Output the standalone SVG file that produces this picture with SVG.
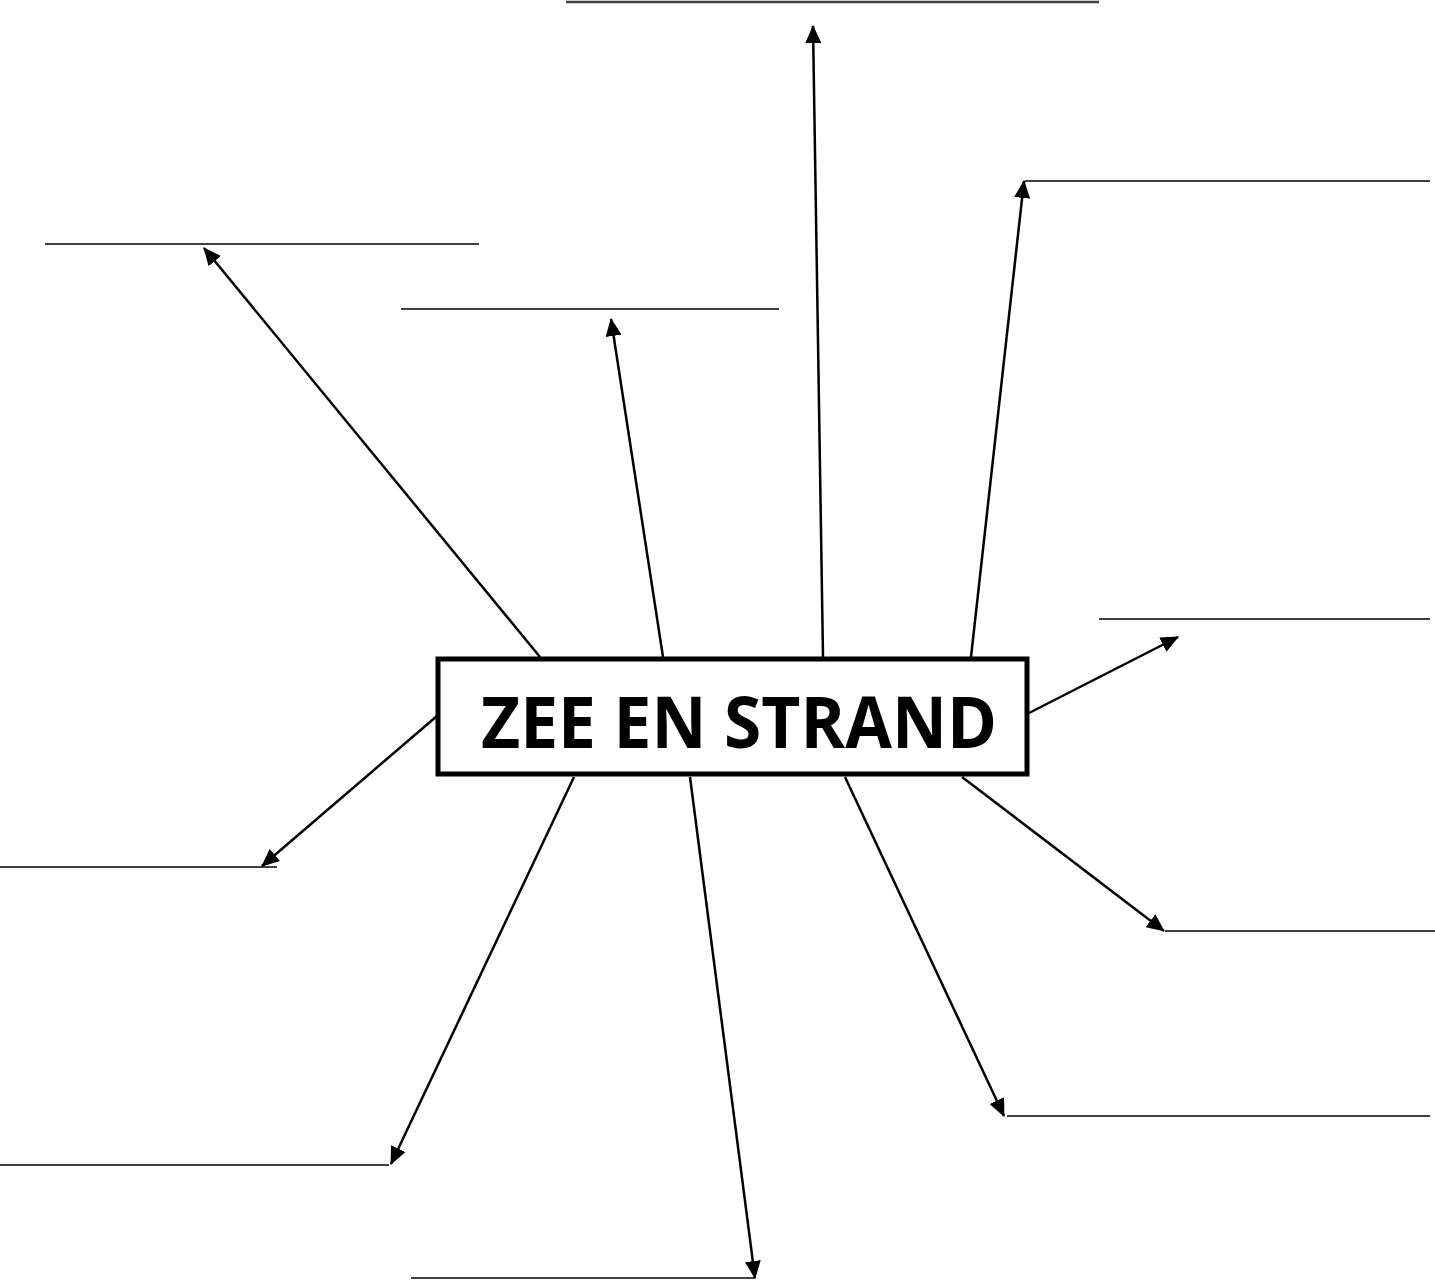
<svg xmlns="http://www.w3.org/2000/svg" width="1435" height="1281" viewBox="0 0 1435 1281">
<style>
.ul{stroke:#000;stroke-width:1.6;fill:none}
.ar{stroke:#000;stroke-width:2.5;fill:none;marker-end:url(#ah)}
.box{fill:#fff;stroke:#000;stroke-width:5}
.t{font-family:"Open Sans","Liberation Sans",sans-serif;font-weight:bold;font-size:72px;fill:#000}
</style>
<defs>
<marker id="ah" markerUnits="userSpaceOnUse" markerWidth="18" markerHeight="16" refX="17" refY="8" orient="auto">
<path d="M0,0 L18,8 L0,16 Z" fill="#000"/>
</marker>
</defs>
<rect width="1435" height="1281" fill="#fff"/>
<g id="underlines">
<line class="ul" x1="566" y1="2" x2="1099" y2="2" style="stroke:#444;stroke-width:2.5"/>
<line class="ul" x1="1025" y1="181" x2="1430" y2="181"/>
<line class="ul" x1="45" y1="244" x2="479" y2="244"/>
<line class="ul" x1="401" y1="309" x2="779" y2="309"/>
<line class="ul" x1="1099" y1="619" x2="1430" y2="619"/>
<line class="ul" x1="0" y1="867" x2="277" y2="867"/>
<line class="ul" x1="1165" y1="931" x2="1435" y2="931"/>
<line class="ul" x1="1007" y1="1116" x2="1430" y2="1116"/>
<line class="ul" x1="0" y1="1165" x2="389" y2="1165"/>
<line class="ul" x1="411" y1="1278" x2="755" y2="1278"/>
</g>
<g id="connectors">
<line class="ar" x1="540" y1="657" x2="204" y2="248"/>
<line class="ar" x1="663" y1="657" x2="611" y2="319"/>
<line class="ar" x1="823" y1="657" x2="813" y2="26"/>
<line class="ar" x1="971" y1="657" x2="1024" y2="181"/>
<line class="ar" x1="1029" y1="713" x2="1178" y2="637"/>
<line class="ar" x1="437" y1="716" x2="262" y2="866"/>
<line class="ar" x1="574" y1="777" x2="391" y2="1164"/>
<line class="ar" x1="690" y1="777" x2="755" y2="1278"/>
<line class="ar" x1="845" y1="777" x2="1004" y2="1116"/>
<line class="ar" x1="962" y1="777" x2="1164" y2="931"/>
</g>
<g id="center">
<rect class="box" x="438" y="659" width="589" height="115"/>
<text class="t" x="481" y="748" textLength="516" lengthAdjust="spacingAndGlyphs">ZEE EN STRAND</text>
</g>
</svg>
